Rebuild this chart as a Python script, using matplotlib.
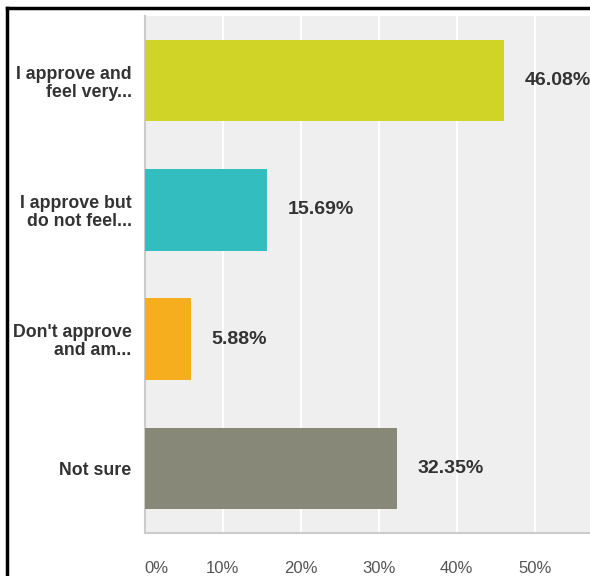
import matplotlib
matplotlib.use("Agg")
import matplotlib.pyplot as plt
from matplotlib.lines import Line2D

plt.rcParams['font.family'] = ['Liberation Sans', 'DejaVu Sans']

categories = ["I approve and\nfeel very...", "I approve but\ndo not feel...",
              "Don't approve\nand am...", "Not sure"]
values = [46.08, 15.69, 5.88, 32.35]
colors = ["#CFD427", "#33BDBF", "#F7AE1E", "#878878"]
xticks = [0, 10, 20, 30, 40, 50]
xtick_labels = ["0%", "10%", "20%", "30%", "40%", "50%"]

fig = plt.figure(figsize=(5.90, 5.76), dpi=100)
ax = fig.add_axes([0.2453, 0.0747, 0.7547, 0.8975])
ax.set_facecolor("#EFEFEF")

ypos = list(range(len(categories)))
ax.barh(ypos, values, height=0.63, color=colors, zorder=3)

for y, v in zip(ypos, values):
    ax.annotate(f"{v:.2f}%", xy=(v, y), xytext=(15, 0), textcoords="offset points",
                ha="left", va="center", fontsize=14, fontweight="bold",
                color="#333333", zorder=4)

ax.set_xlim(0, 57.1)
ax.set_ylim(3.5, -0.5)

ax.set_yticks(ypos)
ax.set_yticklabels(categories, fontsize=12.8, fontweight="bold", color="#333333",
                   linespacing=1.1)
ax.tick_params(axis="y", length=0, pad=9.5)

ax.set_xticks(xticks)
ax.set_xticklabels(xtick_labels, fontsize=12, color="#555555")
ax.tick_params(axis="x", length=0, pad=20)
ax.get_xticklabels()[0].set_horizontalalignment("left")

ax.grid(axis="x", color="white", linewidth=1.5, zorder=1)
ax.set_axisbelow(True)

for side in ["top", "right"]:
    ax.spines[side].set_visible(False)
for side in ["left", "bottom"]:
    ax.spines[side].set_color("#CCCCCC")
    ax.spines[side].set_linewidth(1.5)

# black frame along the top and left edges
fig.add_artist(Line2D([7 / 590, 1.0], [1 - 7.5 / 576, 1 - 7.5 / 576],
                      color="black", linewidth=2.5, transform=fig.transFigure))
fig.add_artist(Line2D([7 / 590, 7 / 590], [0, 1 - 7.5 / 576],
                      color="black", linewidth=2.5, transform=fig.transFigure))

fig.savefig("out.png", dpi=100)
